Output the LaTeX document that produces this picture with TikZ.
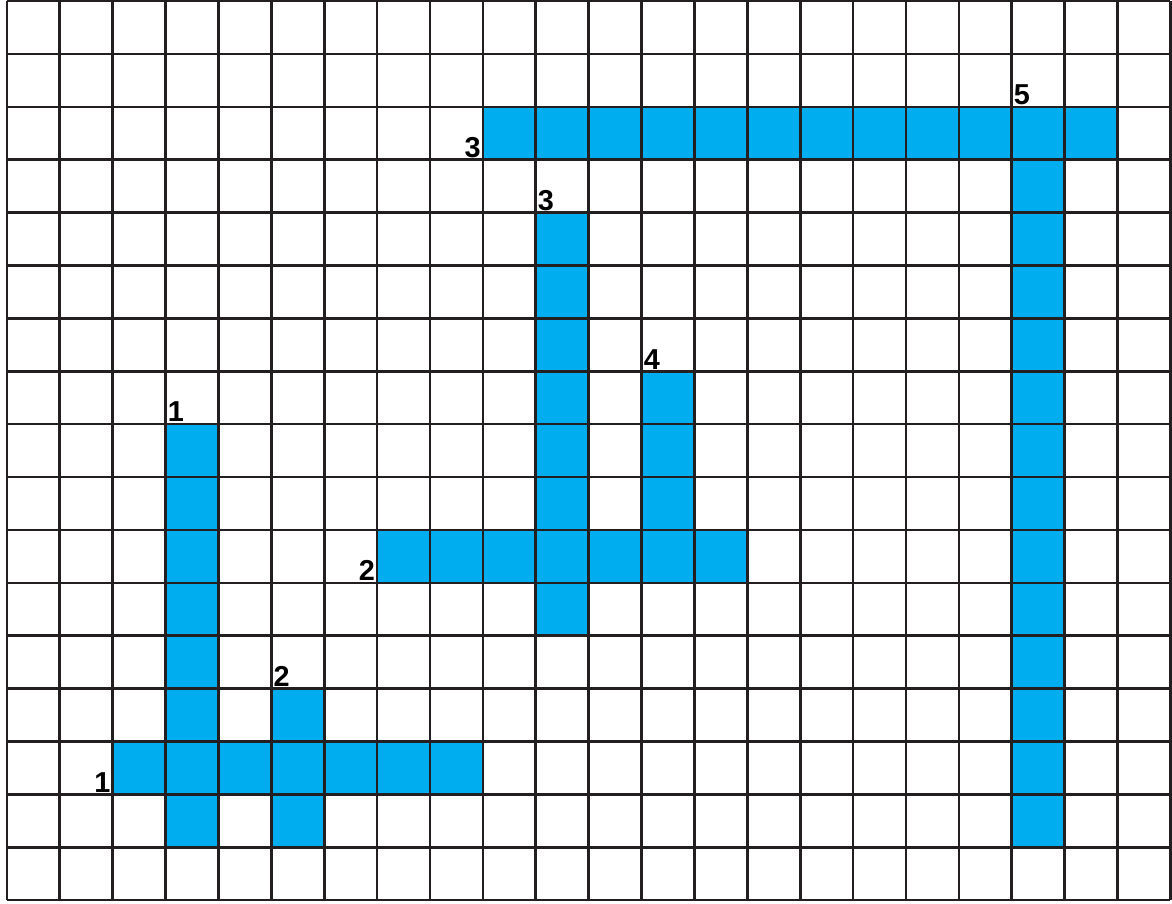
\documentclass[tikz,border=0pt]{standalone}
\usepackage{fontspec}
\setmainfont{Liberation Sans}
\usetikzlibrary{positioning}
\definecolor{ciano}{HTML}{00AEEF}
\definecolor{griglia}{HTML}{231F20}
\tikzset{
  barra/.style  = {fill=ciano},
  linee/.style  = {draw=griglia, line width=1.4pt},
  numS/.style   = {font=\fontsize{15.5}{18}\selectfont\bfseries, inner sep=1pt, anchor=south east},
  numN/.style   = {font=\fontsize{15.5}{18}\selectfont\bfseries, inner sep=1pt, anchor=south west}
}
\begin{document}
\begin{tikzpicture}

  \useasboundingbox (-0.13,-0.07) rectangle (22.03,17.02);

  % ---- barre orizzontali ----
  \fill[barra] (9,14) rectangle (21,15);
  \fill[barra] (7,6)  rectangle (14,7);
  \fill[barra] (2,2)  rectangle (9,3);

  % ---- barre verticali ----
  \fill[barra] (19,1) rectangle (20,14);
  \fill[barra] (10,5) rectangle (11,13);
  \fill[barra] (12,7) rectangle (13,10);
  \fill[barra] (3,1)  rectangle (4,9);
  \fill[barra] (5,1)  rectangle (6,4);

  % ---- griglia ----
  \draw[linee] (0,0) grid (22,17);

  % ---- numeri ----
  \node[numS] (o3) at (9,14) {3};
  \node[numN] (v5) at (19,15) {5};
  \node[numN] (v3) at (10,13) {3};
  \node[numN] (v4) at (12,10) {4};
  \node[numS] (o2) at (7,6) {2};
  \node[numN] (v1) at (3,9) {1};
  \node[numS] (o1) at (2,2) {1};
  \node[numN] (v2) at (5,4) {2};

\end{tikzpicture}
\end{document}
